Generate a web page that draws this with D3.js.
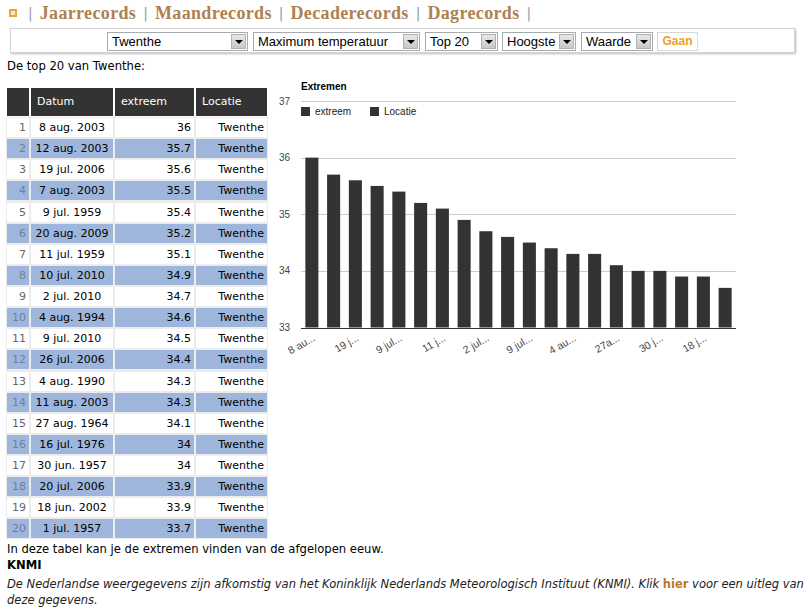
<!DOCTYPE html>
<html>
<head>
<meta charset="utf-8">
<script src="https://cdn.jsdelivr.net/npm/d3@7"></script>
<style>
  body { margin: 0; background: #fff; font-family: "DejaVu Sans", Verdana, sans-serif; font-size: 11px; color: #000; }
  #page { position: relative; width: 806px; height: 611px; overflow: hidden; }
  .abs { position: absolute; white-space: nowrap; }
  .nav { font-family: "Liberation Serif", serif; font-weight: bold; font-size: 18px; color: #ad8152; letter-spacing: 0.35px; }
  .sep { font-family: "DejaVu Sans", sans-serif; font-weight: normal; font-size: 14px; color: #999; padding: 0 7px; position: relative; top: -1px; letter-spacing: 0; }
  .sel { border: 1px solid #a5acb2; background: #fff; font-family: "Liberation Sans", Arial, sans-serif; font-size: 13px; line-height: 17px; padding-left: 4px; box-sizing: border-box; }
  .arrow { position: absolute; right: 1px; top: 1px; width: 15px; height: 15px; box-sizing: border-box; border: 1px solid #b0b0b0; background: linear-gradient(#e8e8e8, #c8c8c8); }
  .arrow:after { content: ""; position: absolute; left: 3px; top: 5px; border-left: 4px solid transparent; border-right: 4px solid transparent; border-top: 4px solid #000; }
  .cell { position: absolute; box-sizing: border-box; white-space: nowrap; overflow: hidden; }
  .txt { font-size: 11.6px; }
  svg text { font-family: "Liberation Sans", Arial, sans-serif; }
</style>
</head>
<body>
<div id="page"></div>
<script>
// data
var datums = ["8 aug. 2003", "12 aug. 2003", "19 jul. 2006", "7 aug. 2003", "9 jul. 1959",
  "20 aug. 2009", "11 jul. 1959", "10 jul. 2010", "2 jul. 2010", "4 aug. 1994",
  "9 jul. 2010", "26 jul. 2006", "4 aug. 1990", "11 aug. 2003", "27 aug. 1964",
  "16 jul. 1976", "30 jun. 1957", "20 jul. 2006", "18 jun. 2002", "1 jul. 1957"]
var extreem = [36, 35.7, 35.6, 35.5, 35.4, 35.2, 35.1, 34.9, 34.7, 34.6,
  34.5, 34.4, 34.3, 34.3, 34.1, 34, 34, 33.9, 33.9, 33.7]
var locatie = ["Twenthe", "Twenthe", "Twenthe", "Twenthe", "Twenthe", "Twenthe", "Twenthe",
  "Twenthe", "Twenthe", "Twenthe", "Twenthe", "Twenthe", "Twenthe", "Twenthe", "Twenthe",
  "Twenthe", "Twenthe", "Twenthe", "Twenthe", "Twenthe"]
var kolommen = ["", "Datum", "extreem", "Locatie"]
var yTicks = [33, 34, 35, 36, 37]
// shortened x labels as the chart shows them (every other bar)
var xLabels = ["8 au...", "", "19 j...", "", "9 jul...", "", "11 j...", "", "2 jul...", "",
  "9 jul...", "", "4 au...", "", "27a...", "", "30 j...", "", "18 j...", ""]
var legend = ["extreem", "Locatie"]
var navItems = ["Jaarrecords", "Maandrecords", "Decaderecords", "Dagrecords"]
var selects = [
  { label: "Twenthe", x: 107, w: 141 },
  { label: "Maximum temperatuur", x: 253, w: 167 },
  { label: "Top 20", x: 425, w: 73 },
  { label: "Hoogste", x: 502, w: 74 },
  { label: "Waarde", x: 581, w: 72 }
]

const page = d3.select("#page")

// top navigation
page.append("div").attr("class", "abs")
  .style("left", "9px").style("top", "9px").style("width", "8px").style("height", "8px")
  .style("box-sizing", "border-box").style("border", "2px solid #f0a040").style("background", "#fde6c4")
const nav = page.append("div").attr("class", "abs nav").style("left", "21px").style("top", "3px")
nav.append("span").attr("class", "sep").text("|")
navItems.forEach(function (n) {
  nav.append("span").text(n)
  nav.append("span").attr("class", "sep").text("|")
})

// form bar
page.append("div").attr("class", "abs")
  .style("left", "10px").style("top", "28px").style("width", "785px").style("height", "25px")
  .style("box-sizing", "border-box").style("border", "1px solid #d4d4d4")
  .style("box-shadow", "1px 1px 2px #bbb")
selects.forEach(function (s) {
  const d = page.append("div").attr("class", "abs sel")
    .style("left", s.x + "px").style("top", "32px").style("width", s.w + "px").style("height", "19px")
    .text(s.label)
  d.append("div").attr("class", "arrow")
})
page.append("div").attr("class", "abs")
  .style("left", "657px").style("top", "32px").style("width", "41px").style("height", "19px")
  .style("box-sizing", "border-box").style("border", "1px solid #d8d8d8")
  .style("font-family", "'Liberation Sans', Arial, sans-serif").style("font-weight", "bold")
  .style("font-size", "12px").style("line-height", "17px").style("color", "#eba21f")
  .style("text-align", "center").text("Gaan")

page.append("div").attr("class", "abs txt").style("left", "7px").style("top", "59px")
  .text("De top 20 van Twenthe:")

// table
const colX = [7, 31, 115, 196]
const colW = [22, 82, 79, 71]
const colAlign = ["right", "center", "right", "right"]
const rowY = d3.scaleBand().domain(d3.range(datums.length)).range([118, 538.5]).paddingInner(0.1)

page.append("div").attr("class", "abs")
  .style("left", "6px").style("top", "117px").style("width", "262px").style("height", "422px")
  .style("background", "#ececec")

page.selectAll("div.hcell").data(kolommen).enter().append("div")
  .attr("class", "cell hcell")
  .style("left", (d, i) => colX[i] + "px").style("top", "88px")
  .style("width", (d, i) => colW[i] + "px").style("height", "28px")
  .style("background", "#333").style("color", "#fff")
  .style("line-height", "28px").style("padding-left", "6px")
  .text(d => d)

const rows = d3.range(datums.length).map(function (i) {
  return [String(i + 1), datums[i], String(extreem[i]), locatie[i]]
})
rows.forEach(function (r, i) {
  const even = i % 2 === 1
  page.selectAll(null).data(r).enter().append("div")
    .attr("class", "cell")
    .style("left", (d, c) => colX[c] + "px").style("top", rowY(i) + "px")
    .style("width", (d, c) => colW[c] + "px").style("height", rowY.bandwidth() + "px")
    .style("line-height", rowY.bandwidth() + "px")
    .style("background", even ? "#9fb6dc" : "#fff")
    .style("color", (d, c) => c === 0 ? (even ? "#6f7f99" : "#666") : "#000")
    .style("text-align", (d, c) => colAlign[c])
    .style("padding-right", (d, c) => c === 1 ? "0px" : "3px")
    .text(d => d)
})

// bottom text
page.append("div").attr("class", "abs txt").style("left", "7px").style("top", "542px")
  .text("In deze tabel kan je de extremen vinden van de afgelopen eeuw.")
page.append("div").attr("class", "abs txt").style("left", "7px").style("top", "558px")
  .style("font-weight", "bold").text("KNMI")
const p = page.append("div").attr("class", "abs").style("left", "7px").style("top", "577px")
  .style("font-size", "11.5px")
  .style("font-style", "italic").style("line-height", "15.5px").style("color", "#222")
p.append("span").text("De Nederlandse weergegevens zijn afkomstig van het Koninklijk Nederlands Meteorologisch Instituut (KNMI). Klik ")
p.append("span").style("color", "#c0772a").style("font-weight", "bold").style("font-style", "normal").text("hier")
p.append("span").text(" voor een uitleg van")
p.append("br")
p.append("span").text("deze gegevens.")

// chart
const svg = page.append("svg").attr("class", "abs")
  .style("left", "0px").style("top", "0px")
  .attr("width", 806).attr("height", 611)
  .style("pointer-events", "none")

const x = d3.scaleBand()
  .domain(d3.range(extreem.length))
  .range([301, 736])
  .paddingInner(0.4)
  .paddingOuter(0.2)
const y = d3.scaleLinear().domain([33, 37]).range([327.5, 101])

svg.append("text").attr("x", 301).attr("y", 90)
  .style("font-size", "10px").style("font-weight", "bold").text("Extremen")

svg.selectAll("line.grid").data(yTicks).enter().append("line")
  .attr("x1", 301).attr("x2", 736)
  .attr("y1", d => Math.round(y(d)) + 0.5).attr("y2", d => Math.round(y(d)) + 0.5)
  .attr("stroke", d => d === 33 ? "#333" : "#ccc")

svg.selectAll("text.ytick").data(yTicks).enter().append("text")
  .attr("x", 290).attr("y", d => y(d)).attr("dy", "0.35em")
  .attr("text-anchor", "end").attr("fill", "#444").style("font-size", "10px")
  .text(d => d)

const lg = svg.selectAll("g.legend").data(legend).enter().append("g")
  .attr("transform", (d, i) => `translate(${301 + i * 69},107)`)
lg.append("rect").attr("width", 9).attr("height", 9).attr("fill", "#333")
lg.append("text").attr("x", 14).attr("y", 8).style("font-size", "10px").attr("fill", "#222").text(d => d)

svg.selectAll("rect.bar").data(extreem).enter().append("rect")
  .attr("x", (d, i) => x(i))
  .attr("y", d => y(d))
  .attr("width", x.bandwidth())
  .attr("height", d => y(33) - y(d))
  .attr("fill", "#333")

svg.selectAll("text.xtick").data(xLabels).enter().append("text")
  .attr("transform", (d, i) => `translate(${x(i) + x.bandwidth() / 2 + 4},340) rotate(-30)`)
  .attr("text-anchor", "end").attr("fill", "#444").style("font-size", "10.5px")
  .text(d => d)
</script>
</body>
</html>
